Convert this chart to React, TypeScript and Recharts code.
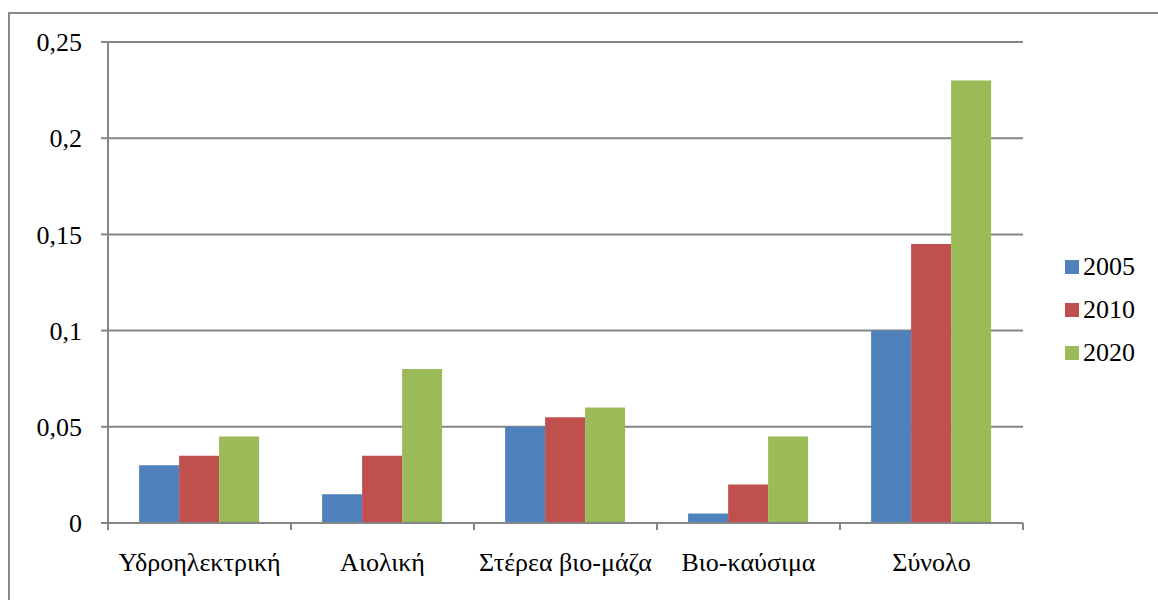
import { Bar, BarChart, CartesianGrid, XAxis, YAxis } from "recharts";

const categories = ["Υδροηλεκτρική", "Αιολική", "Στέρεα βιο-μάζα", "Βιο-καύσιμα", "Σύνολο"];
const values2005 = [0.03, 0.015, 0.05, 0.005, 0.1];
const values2010 = [0.035, 0.035, 0.055, 0.02, 0.145];
const values2020 = [0.045, 0.08, 0.06, 0.045, 0.23];
const yTicks = [0, 0.05, 0.1, 0.15, 0.2, 0.25];

const series = [
  { key: "y2005", name: "2005", color: "#4F81BD" },
  { key: "y2010", name: "2010", color: "#C0504D" },
  { key: "y2020", name: "2020", color: "#9BBB59" },
];

const data = categories.map((name, i) => ({
  name,
  y2005: values2005[i],
  y2010: values2010[i],
  y2020: values2020[i],
}));

const W = 1158;
const H = 600;
const margin = { top: 42, right: 135, bottom: 17, left: 0 };
const yAxisWidth = 108;
const band = (W - margin.left - margin.right - yAxisWidth) / categories.length;
const font = "Liberation Serif";
const fontSize = 26;
const axisColor = "#868686";
const xTickMargin = 23;

function CategoryTick(props: any) {
  const { x, y, payload, index } = props;
  const half = band / 2;
  const y0 = y - xTickMargin - 7;
  const y1 = y - xTickMargin;
  return (
    <g>
      <line x1={x - half} x2={x - half} y1={y0} y2={y1} stroke={axisColor} strokeWidth={2} />
      {index === categories.length - 1 && (
        <line x1={x + half} x2={x + half} y1={y0} y2={y1} stroke={axisColor} strokeWidth={2} />
      )}
      <text x={x} y={y} dy="0.71em" textAnchor="middle" fontFamily={font} fontSize={fontSize} fill="#000">
        {payload.value}
      </text>
    </g>
  );
}

function ValueTick(props: any) {
  const { x, y, payload } = props;
  return (
    <text x={x} y={y} dy="0.355em" textAnchor="end" fontFamily={font} fontSize={fontSize} fill="#000">
      {String(payload.value).replace(".", ",")}
    </text>
  );
}

function LegendBox() {
  return (
    <div
      style={{
        position: "absolute",
        left: 1065,
        top: 245,
        fontFamily: font,
        fontSize,
        color: "#000",
      }}
    >
      {series.map((s) => (
        <div key={s.key} style={{ display: "flex", alignItems: "center", height: 43 }}>
          <span style={{ width: 14, height: 14, background: s.color, marginRight: 4, display: "inline-block" }} />
          <span>{s.name}</span>
        </div>
      ))}
    </div>
  );
}

export default function App() {
  return (
    <div
      style={{
        position: "absolute",
        left: 0,
        top: 0,
        width: W,
        height: H,
        overflow: "hidden",
        background: "#fff",
        fontFamily: font,
      }}
    >
      <div
        style={{
          position: "absolute",
          left: 8,
          top: 12,
          width: W + 40,
          height: H + 40,
          border: "2px solid #8a8a8a",
        }}
      />
      <div style={{ position: "absolute", left: 0, top: 0 }}>
        <BarChart width={W} height={H} data={data} margin={margin} barCategoryGap="17%" barGap={0}>
          <CartesianGrid vertical={false} stroke={axisColor} strokeWidth={2} />
          <XAxis
            dataKey="name"
            height={60}
            interval={0}
            tickLine={false}
            tickSize={7}
            tickMargin={xTickMargin}
            axisLine={{ stroke: axisColor, strokeWidth: 2 }}
            tick={<CategoryTick />}
          />
          <YAxis
            width={yAxisWidth}
            domain={[0, 0.25]}
            ticks={yTicks}
            interval={0}
            tickSize={7}
            tickMargin={19}
            axisLine={{ stroke: axisColor, strokeWidth: 2 }}
            tickLine={{ stroke: axisColor, strokeWidth: 2 }}
            tick={<ValueTick />}
          />
          {series.map((s) => (
            <Bar key={s.key} dataKey={s.key} name={s.name} fill={s.color} isAnimationActive={false} />
          ))}
        </BarChart>
      </div>
      <LegendBox />
    </div>
  );
}
